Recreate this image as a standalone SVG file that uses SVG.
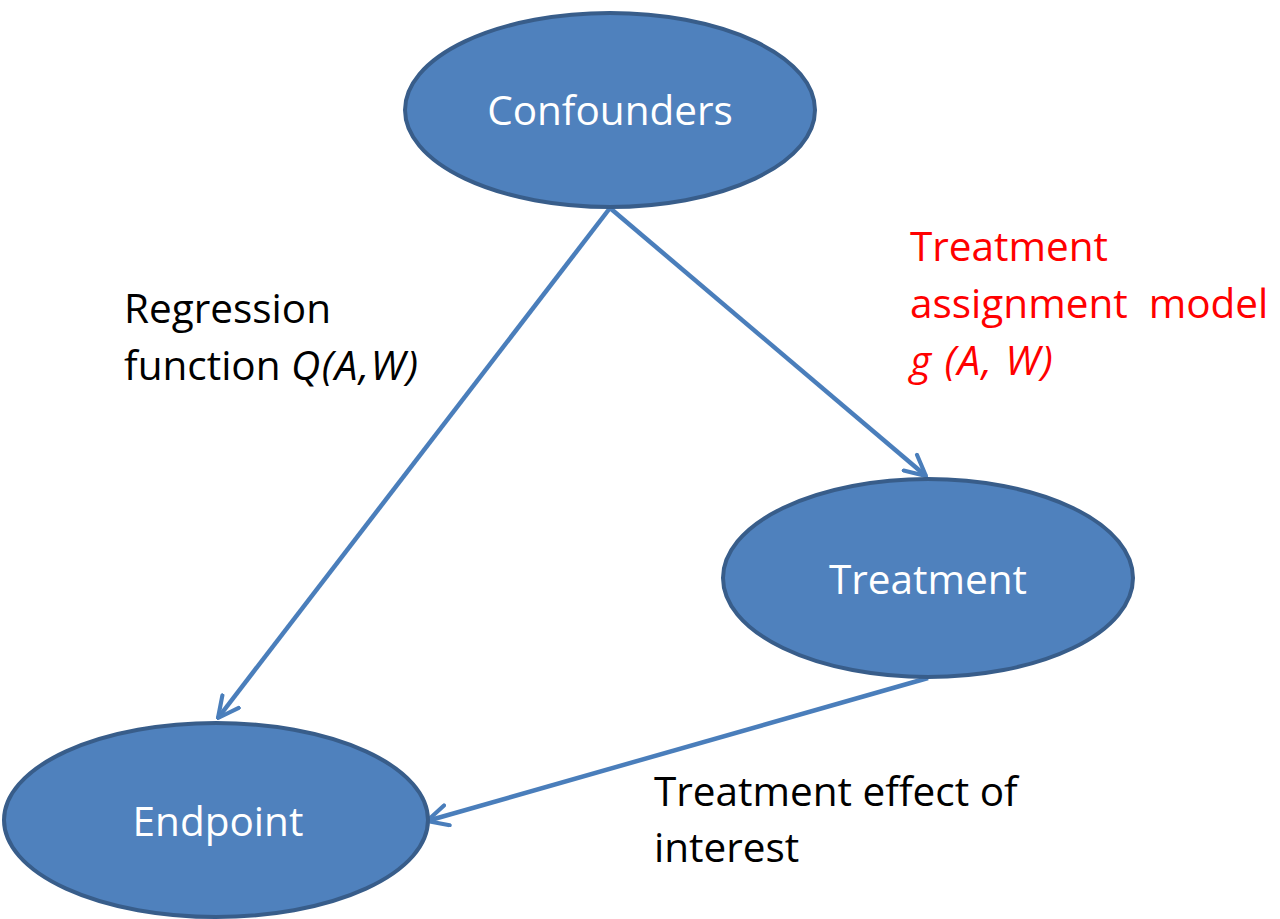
<svg xmlns="http://www.w3.org/2000/svg" width="1280" height="919" viewBox="0 0 1280 919">
<style>
.node{fill:#4F81BD;stroke:#385D8A;stroke-width:4}
.nt{fill:#fff;font-family:"Open Sans","Liberation Sans",sans-serif;font-size:40.5px;text-anchor:middle}
.lbl{font-family:"Open Sans","Liberation Sans",sans-serif;font-size:40.5px}
.it{font-style:italic;letter-spacing:1.5px}
.edge{stroke:#4A7EBB;stroke-width:4.5;fill:none}
</style>
<defs>
<marker id="arr" viewBox="0 0 12 12" refX="11" refY="6" markerWidth="5.5" markerHeight="5.5" markerUnits="strokeWidth" orient="auto">
<path d="M1,1 L11,6 L1,11" fill="none" stroke="#4A7EBB" stroke-width="2" stroke-linecap="round" stroke-linejoin="round"/>
</marker>
</defs>
<rect width="1280" height="919" fill="#fff"/>
<g id="connectors">
<line class="edge" x1="610" y1="208" x2="218" y2="718" marker-end="url(#arr)"/>
<line class="edge" x1="610" y1="208" x2="926" y2="476" marker-end="url(#arr)"/>
<line class="edge" x1="928" y1="678" x2="427" y2="821" marker-end="url(#arr)"/>
</g>
<g id="confounders">
<ellipse class="node" cx="610" cy="110" rx="205" ry="97"/>
<text class="nt" x="610" y="125">Confounders</text>
</g>
<g id="treatment">
<ellipse class="node" cx="928" cy="578" rx="205" ry="99"/>
<text class="nt" x="928" y="594">Treatment</text>
</g>
<g id="endpoint">
<ellipse class="node" cx="216" cy="820" rx="212" ry="97"/>
<text class="nt" x="218" y="836">Endpoint</text>
</g>
<g id="label-regression">
<text class="lbl" x="124" y="323" fill="#000">Regression</text>
<text class="lbl" x="124" y="380" fill="#000">function <tspan class="it">Q(A,W)</tspan></text>
</g>
<g id="label-assignment">
<text class="lbl" x="910" y="261" fill="#FF0000">Treatment</text>
<text class="lbl" x="910" y="318" fill="#FF0000" xml:space="preserve">assignment  model</text>
<text class="lbl it" x="910" y="375" fill="#FF0000">g (A, W)</text>
</g>
<g id="label-effect">
<text class="lbl" x="654" y="806" fill="#000">Treatment effect of</text>
<text class="lbl" x="654" y="862" fill="#000">interest</text>
</g>
</svg>
